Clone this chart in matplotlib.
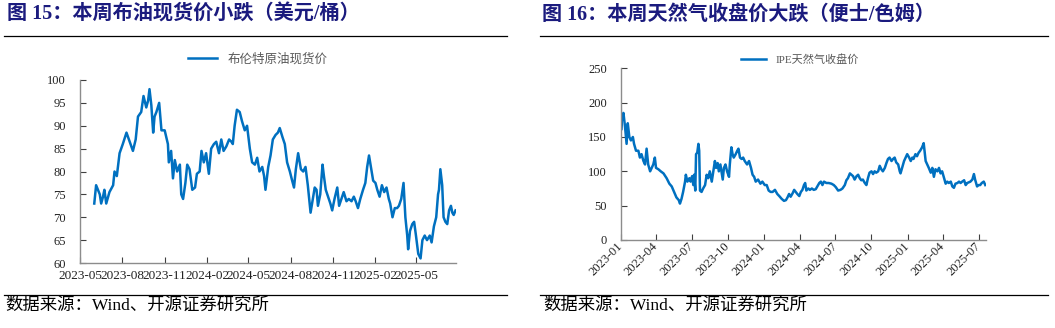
import matplotlib
matplotlib.use("Agg")
import matplotlib.pyplot as plt
import matplotlib.dates as mdates
from matplotlib.lines import Line2D
import pandas as pd

plt.rcParams["font.family"] = ["Liberation Serif", "Noto Sans CJK SC"]

# Brent spot price (USD/bbl), days after 2023-06-01
brent_start = "2023-06-01"
brent_days = [
    0, 4, 12, 15, 19, 22, 26, 33, 41, 44,
    49, 55, 62, 70, 77, 84, 90, 95, 102, 107,
    113, 117, 120, 124, 128, 131, 135, 141, 146, 153,
    160, 162, 167, 171, 175, 180, 186, 189, 193, 198,
    202, 207, 213, 219, 223, 229, 233, 238, 243, 249,
    254, 260, 265, 271, 276, 281, 287, 293, 298, 301,
    305, 310, 316, 321, 327, 332, 338, 343, 349, 354,
    359, 365, 369, 372, 378, 383, 388, 394, 399, 403,
    409, 414, 419, 425, 430, 434, 438, 443, 449, 454,
    459, 464, 470, 474, 479, 483, 486, 491, 496, 499,
    503, 508, 513, 517, 522, 528, 532, 537, 542, 548,
    553, 559, 564, 568, 573, 578, 584, 589, 593, 597,
    601, 606, 611, 615, 620, 625, 630, 635, 640, 643,
    648, 653, 658, 662, 667, 672, 676, 680, 682, 686,
    691, 695, 699, 704, 709, 713, 718, 723, 729, 733,
    738, 743, 747, 749, 752, 756, 759, 763, 767, 771,
    775, 778, 781, 785,
]
brent_price = [
    73, 77, 75, 73, 74.5, 76, 73, 75.5, 77, 80,
    79, 84, 86, 88.5, 86.5, 84.5, 87, 92, 93, 96.5,
    94, 95.5, 98, 94.5, 88.5, 92, 93, 95, 89, 89,
    86, 82, 84.5, 78.5, 82.5, 80, 81.5, 75, 74, 77.5,
    81.5, 80.5, 76, 76.5, 79.5, 80, 84.5, 82, 84, 79.5,
    85, 86, 86.5, 84, 87, 84.5, 85.5, 87, 86.5, 86,
    90, 93.5, 93, 91, 89, 90, 85, 82, 81.5, 83,
    80, 81, 79, 76, 81, 83.5, 87, 88, 88.5, 89.5,
    87.5, 86, 82, 80, 78, 76.5, 80.5, 84, 80.5, 80,
    81, 77, 71, 73.5, 76.5, 76, 72.5, 75, 81.5, 79,
    76, 74.5, 73, 71.5, 74, 76.5, 72.5, 74, 75.5, 73.5,
    74, 73.5, 74.5, 73.5, 72, 74, 76, 77.5, 81, 83.5,
    81, 78, 77.5, 76, 74.5, 77, 75.5, 76.5, 74, 73,
    70, 72, 72, 72.5, 74, 77.5, 70, 66, 63, 67,
    68.5, 69, 66, 62, 61, 65, 66, 65, 66, 64.5,
    68, 70, 75, 76, 80.5, 77, 70, 69, 68.5, 71.5,
    72.5, 71, 70.5, 71.5,
]

# IPE natural gas close (pence/therm), days after 2023-01-01
gas_start = "2023-01-01"
gas_days = [
    0, 1, 3, 7, 11, 15, 18, 22, 26, 31, 34,
    39, 45, 49, 53, 58, 62, 66, 70, 75, 79,
    83, 87, 90, 96, 102, 109, 117, 124, 130, 136,
    142, 148, 151, 155, 159, 164, 166, 170, 175, 178,
    182, 185, 187, 190, 192, 195, 198, 200, 202, 206,
    210, 215, 219, 223, 227, 232, 236, 240, 243, 247,
    250, 254, 260, 263, 267, 271, 276, 278, 282, 285,
    288, 293, 297, 300, 304, 308, 312, 316, 322, 327,
    332, 336, 340, 344, 350, 356, 361, 367, 372, 377,
    382, 387, 393, 399, 404, 410, 416, 421, 425, 429,
    433, 438, 442, 446, 450, 455, 459, 463, 467, 470,
    473, 478, 482, 487, 492, 497, 501, 506, 510, 514,
    518, 524, 530, 537, 543, 548, 554, 560, 565, 571,
    575, 579, 584, 588, 592, 596, 601, 605, 609, 613,
    617, 622, 626, 630, 634, 639, 643, 647, 651, 656,
    660, 664, 668, 673, 677, 681, 685, 690, 694, 698,
    702, 707, 711, 713, 718, 722, 726, 730, 735, 739,
    743, 746, 751, 755, 759, 763, 768, 772, 774, 777,
    781, 785, 790, 794, 798, 802, 807, 811, 815, 819,
    824, 828, 832, 836, 841, 845, 849, 853, 858, 862,
    866, 870, 875, 879, 883, 887, 891, 896, 900, 903,
    908, 912, 916, 920, 925, 929,
]
gas_price = [
    200, 160, 175, 185, 165, 140, 170, 150, 145, 150, 140,
    130, 130, 120, 125, 115, 110, 133, 110, 100, 105,
    110, 120, 105, 103, 100, 97, 90, 82, 78, 70,
    62, 58, 53, 60, 70, 85, 95, 85, 90, 85,
    93, 80, 95, 72, 125, 127, 140, 130, 72, 70,
    75, 80, 95, 90, 100, 85, 100, 115, 105, 112,
    100, 110, 88, 105, 110, 100, 92, 110, 135, 125,
    120, 125, 130, 133, 120, 118, 120, 115, 110, 115,
    105, 95, 92, 85, 88, 82, 85, 80, 80, 72,
    70, 70, 73, 67, 64, 60, 57, 58, 62, 67,
    63, 68, 73, 70, 67, 64, 70, 73, 80, 83,
    72, 75, 73, 75, 73, 74, 78, 83, 85, 80,
    85, 83, 83, 82, 80, 77, 72, 73, 75, 80,
    87, 90, 97, 95, 93, 88, 93, 95, 90, 87,
    88, 83, 80, 90, 98, 100, 96, 100, 98, 100,
    108, 103, 100, 105, 112, 118, 120, 115, 118, 120,
    113, 110, 100, 97, 107, 115, 120, 125, 120, 115,
    120, 118, 125, 122, 127, 130, 135, 141, 130, 115,
    110, 105, 98, 105, 92, 103, 100, 105, 97, 100,
    90, 82, 85, 83, 85, 78, 76, 82, 83, 85,
    83, 85, 87, 80, 83, 84, 85, 88, 96, 88,
    78, 80, 80, 83, 85, 80,
]

titles = ["图 15：本周布油现货价小跌（美元/桶）", "图 16：本周天然气收盘价大跌（便士/色姆）"]
legend_labels = ["布伦特原油现货价", "IPE天然气收盘价"]
source_text = "数据来源：Wind、开源证券研究所"

LINE_BLUE = "#0070C0"
TITLE_BLUE = "#1B1B7E"
AXIS_GRAY = "#8C8C8C"

W, H = 1055, 328
fig = plt.figure(figsize=(W / 100, H / 100), dpi=100)


def px_box(x0, y0, x1, y1):
    return [x0 / W, 1 - y1 / H, (x1 - x0) / W, (y1 - y0) / H]


def style_axes(ax):
    for side in ["top", "right"]:
        ax.spines[side].set_visible(False)
    for side in ["left", "bottom"]:
        ax.spines[side].set_color(AXIS_GRAY)
        ax.spines[side].set_linewidth(1.0)
    ax.tick_params(direction="in", length=4, width=0.8, color="#404040",
                   labelsize=9, labelcolor="#222222")


# left panel: Brent
brent_dates = pd.Timestamp(brent_start) + pd.to_timedelta(brent_days, unit="D")
ax1 = fig.add_axes(px_box(80, 80, 456, 263))
ax1.plot(brent_dates, brent_price, color=LINE_BLUE, lw=1.8, label=legend_labels[0])
ax1.set_ylim(60, 100)
ax1.set_yticks(range(60, 101, 5))
ax1.set_xlim(pd.Timestamp("2023-05-01"), brent_dates[-1] + pd.Timedelta(days=1))
ax1.xaxis.set_major_locator(mdates.MonthLocator(bymonth=[2, 5, 8, 11]))
ax1.xaxis.set_major_formatter(mdates.DateFormatter("%Y-%m"))
style_axes(ax1)
ax1.tick_params(axis="y", pad=10)
ax1.tick_params(axis="x", pad=5, labelsize=9.5)
ax1.legend(loc="center", bbox_to_anchor=(0.473, 1.115), frameon=False,
           handlelength=2.3, prop={"size": 9}, labelcolor="#595959")

# right panel: natural gas
gas_dates = pd.Timestamp(gas_start) + pd.to_timedelta(gas_days, unit="D")
ax2 = fig.add_axes(px_box(620.7, 68.3, 985.7, 240))
ax2.plot(gas_dates, gas_price, color=LINE_BLUE, lw=1.8, label=legend_labels[1])
ax2.set_ylim(0, 250)
ax2.set_yticks(range(0, 251, 50))
ax2.set_xlim(pd.Timestamp("2023-01-01"), gas_dates[-1] + pd.Timedelta(days=1))
ax2.xaxis.set_major_locator(mdates.MonthLocator(bymonth=[1, 4, 7, 10]))
ax2.xaxis.set_major_formatter(mdates.DateFormatter("%Y-%m"))
style_axes(ax2)
ax2.tick_params(axis="y", pad=10)
ax2.tick_params(axis="x", pad=3)
for lab in ax2.get_xticklabels():
    lab.set_rotation(45)
    lab.set_ha("right")
    lab.set_va("center")
    lab.set_rotation_mode("anchor")
ax2.legend(loc="center", bbox_to_anchor=(0.49, 1.05), frameon=False,
           handlelength=2.3, prop={"size": 8}, labelcolor="#595959")

# titles, rules and sources
for r0, r1 in [(4, 507), (540, 1048)]:
    for y in (36, 295):
        fig.add_artist(Line2D([r0 / W, r1 / W], [1 - y / H, 1 - y / H],
                              color="black", lw=0.9))
for i, (x_title, x_src) in enumerate([(7, 5), (542, 543)]):
    fig.text(x_title / W, 1 - 15 / H, titles[i], fontsize=14.5, fontweight="bold",
             color=TITLE_BLUE, ha="left", va="center")
    fig.text(x_src / W, 1 - 306 / H, source_text, fontsize=12.5,
             color="black", ha="left", va="center")

fig.savefig("out.png", dpi=100)
